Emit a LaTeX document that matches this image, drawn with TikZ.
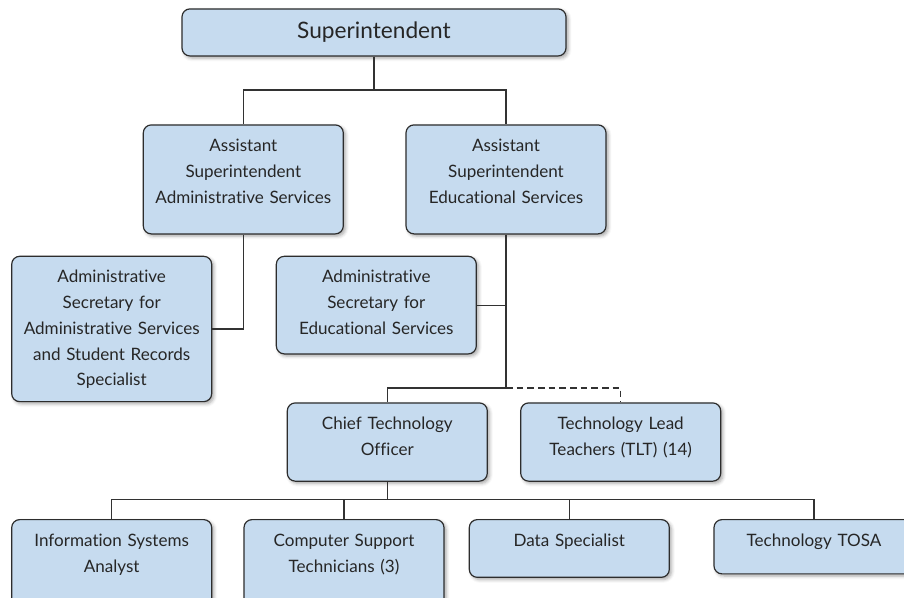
\documentclass[tikz,border=0pt]{standalone}
\usepackage{fontspec}
\setmainfont{Lato}[Ligatures=NoCommon]
\usepackage{xcolor}
\usetikzlibrary{shadows.blur}

\definecolor{postfill}{RGB}{198,219,239}
\definecolor{postline}{RGB}{45,45,45}
\definecolor{wireline}{RGB}{50,50,50}

\tikzset{
  % one box of the chart, #1 = depth below the first baseline
  post/.style={draw=postline, line width=0.9pt, fill=postfill, rounded corners=6pt,
    blur shadow={shadow xshift=1.6pt, shadow yshift=-1.6pt, shadow blur radius=2.5pt, shadow opacity=35},
    text=black!85, anchor=north, align=center, text width=144pt, inner xsep=3pt, inner ysep=0pt,
    font=\fontsize{12.8}{19.3}\selectfont, text height=20pt, text depth=#1},
  head/.style={draw=postline, line width=0.9pt, fill=postfill, rounded corners=6pt,
    blur shadow={shadow xshift=1.6pt, shadow yshift=-1.6pt, shadow blur radius=2.5pt, shadow opacity=35},
    text=black!85, anchor=north, minimum width=288pt, minimum height=35.3pt,
    font=\fontsize{17}{21}\selectfont},
  wire/.style={draw=wireline, line width=0.8pt},
}

\begin{document}
\begin{tikzpicture}[x=0.75pt,y=0.75pt,yscale=-1,xscale=1]
    \useasboundingbox (0,0) rectangle (904,597);

    % top level
    \node[head] (sup) at (374,8.3) {Superintendent};
    \node[post=61.75pt] (asa) at (243.3,124.3) {Assistant\\Superintendent\\Administrative Services};
    \node[post=61.75pt] (ase) at (506,124.3) {Assistant\\Superintendent\\Educational Services};

    % secretaries
    \node[post=89pt] (sadm) at (111.7,255.7) {Administrative\\Secretary for\\Administrative Services\\and Student Records\\Specialist};
    \node[post=53.2pt] (sedu) at (376.3,255.7) {Administrative\\Secretary for\\Educational Services};

    % technology
    \node[post=38.7pt] (cto) at (387.3,402.3) {Chief Technology\\Officer};
    \node[post=38.7pt] (tlt) at (620.7,402.3) {Technology Lead\\Teachers (TLT) (14)};

    % staff under the CTO
    \node[post=51pt] (isa) at (111.7,519) {Information Systems\\Analyst};
    \node[post=51pt] (cst) at (344,519) {Computer Support\\Technicians (3)};
    \node[post=23.3pt] (data) at (569.3,519) {Data Specialist};
    \node[post=20.7pt] (tosa) at (814,519) {Technology TOSA};

    \coordinate (j1) at (374,90);
    \coordinate (j2) at (506,388);
    \coordinate (j3) at (387.3,499.3);

    \draw[wire] (sup.south) -- (j1);
    \draw[wire] (asa.north) |- (j1) -| (ase.north);
    \draw[wire] (asa.south) |- (sadm.east);
    \draw[wire] (ase.south) -- (j2);
    \draw[wire] (sedu.east) -- (sedu.east -| j2);
    \draw[wire] (j2) -| (cto.north);
    \draw[wire, dash pattern=on 5pt off 3pt] (j2) -| (tlt.north);
    \draw[wire] (cto.south) -- (j3);
    \draw[wire] (isa.north) |- (j3) -| (tosa.north);
    \draw[wire] (cst.north) -- (cst.north |- j3);
    \draw[wire] (data.north) -- (data.north |- j3);
\end{tikzpicture}
\end{document}
